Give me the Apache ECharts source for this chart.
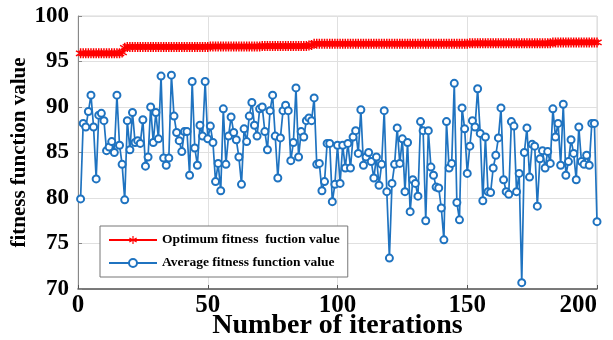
<!DOCTYPE html>
<html>
<head>
<meta charset="utf-8">
<script src="https://cdn.jsdelivr.net/npm/echarts@6/dist/echarts.min.js"></script>
<style>
  html, body { margin: 0; padding: 0; background: #fff; }
  #chart { width: 613px; height: 340px; }
</style>
</head>
<body>
<div id="chart"></div>
<script>
// Best fitness per iteration (iterations 1..200)
const optimumFitness = [
  95.9, 95.9, 95.9, 95.9, 95.9, 95.9, 95.9, 95.9, 95.9, 95.9,
  95.9, 95.9, 95.9, 95.9, 95.9, 95.9, 96.0, 96.5, 96.6, 96.6,
  96.6, 96.6, 96.6, 96.6, 96.6, 96.6, 96.6, 96.6, 96.6, 96.6,
  96.6, 96.6, 96.6, 96.6, 96.6, 96.6, 96.6, 96.6, 96.6, 96.6,
  96.6, 96.6, 96.6, 96.6, 96.6, 96.6, 96.6, 96.6, 96.6, 96.6,
  96.65, 96.65, 96.65, 96.65, 96.65, 96.65, 96.65, 96.65, 96.65, 96.65,
  96.65, 96.65, 96.65, 96.65, 96.65, 96.65, 96.65, 96.65, 96.65, 96.65,
  96.7, 96.7, 96.7, 96.7, 96.7, 96.7, 96.7, 96.7, 96.7, 96.7,
  96.7, 96.7, 96.7, 96.7, 96.7, 96.7, 96.7, 96.7, 96.75, 96.8,
  96.95, 96.95, 96.95, 96.95, 96.95, 96.95, 96.95, 96.95, 96.95, 96.95,
  96.95, 96.95, 96.95, 96.95, 96.95, 96.95, 96.95, 96.95, 96.95, 96.95,
  96.95, 96.95, 96.95, 96.95, 96.95, 96.95, 96.95, 96.95, 96.95, 96.95,
  96.95, 96.95, 96.95, 96.95, 96.95, 96.95, 96.95, 96.95, 96.95, 96.95,
  96.95, 96.95, 96.95, 96.95, 96.95, 96.95, 96.95, 96.95, 96.95, 96.95,
  96.95, 96.95, 96.95, 96.95, 96.95, 96.95, 96.95, 96.95, 96.95, 96.95,
  97.0, 97.0, 97.0, 97.0, 97.0, 97.0, 97.0, 97.0, 97.0, 97.0,
  97.0, 97.0, 97.0, 97.0, 97.0, 97.0, 97.0, 97.0, 97.0, 97.0,
  97.0, 97.0, 97.0, 97.0, 97.0, 97.0, 97.0, 97.0, 97.0, 97.0,
  97.0, 97.0, 97.1, 97.1, 97.1, 97.1, 97.1, 97.1, 97.1, 97.1,
  97.1, 97.1, 97.1, 97.1, 97.1, 97.1, 97.1, 97.1, 97.1, 97.1
];

// Population average fitness per iteration (iterations 1..200)
const averageFitness = [
  79.9, 88.2, 87.8, 89.5, 91.3, 87.8, 82.1, 89.1, 89.3, 88.5,
  85.2, 85.6, 86.2, 85.0, 91.3, 85.8, 83.7, 79.8, 88.5, 85.3,
  89.4, 86.1, 86.3, 86.0, 88.6, 83.5, 84.5, 90.0, 86.1, 89.4,
  86.5, 93.4, 84.4, 83.6, 84.4, 93.5, 89.0, 87.2, 86.3, 85.1,
  87.3, 87.3, 82.5, 92.8, 85.5, 83.6, 88.0, 86.8, 92.8, 86.5,
  87.9, 86.1, 81.8, 83.8, 80.8, 89.8, 83.7, 86.8, 88.9, 87.2,
  86.4, 84.5, 81.5, 87.6, 86.2, 89.0, 90.5, 88.0, 86.8, 89.8,
  90.0, 87.3, 85.3, 89.6, 91.3, 86.8, 82.2, 86.6, 89.6, 90.2,
  89.6, 84.1, 86.1, 92.1, 84.5, 87.3, 86.7, 88.5, 88.8, 88.5,
  91.0, 83.7, 83.8, 80.8, 81.8, 86.0, 86.0, 79.6, 81.5, 85.8,
  81.6, 85.8, 83.3, 86.0, 83.3, 86.7, 87.4, 84.9, 89.7, 83.6,
  84.5, 85.0, 84.0, 82.2, 84.5, 81.4, 83.7, 89.6, 80.7, 73.4,
  81.6, 83.7, 87.7, 83.8, 86.5, 80.7, 86.1, 78.5, 82.0, 81.6,
  80.2, 88.4, 87.4, 77.5, 87.4, 83.4, 82.5, 81.2, 81.1, 78.9,
  75.4, 88.4, 83.3, 83.8, 92.6, 79.5, 77.6, 89.9, 87.6, 82.7,
  85.7, 88.5, 87.8, 92.0, 87.1, 79.7, 86.7, 80.7, 80.6, 83.3,
  84.7, 86.6, 89.9, 82.0, 80.7, 80.4, 88.4, 87.9, 80.7, 82.7,
  70.7, 85.0, 87.7, 82.3, 85.9, 85.7, 79.1, 84.3, 85.2, 83.3,
  85.1, 83.8, 89.8, 86.7, 88.2, 83.6, 90.3, 82.5, 84.0, 86.4,
  84.9, 82.0, 87.8, 84.0, 83.7, 84.7, 83.6, 88.2, 88.2, 77.4
];

const seriesNames = ['Optimum fitness  fuction value', 'Average fitness function value'];

const iterations = averageFitness.map((_, i) => i + 1);
const toPairs = (vals) => vals.map((v, i) => [iterations[i], v]);

// Six-spoke asterisk marker
const asterisk = 'path://M4.3,0L5.7,0L5.7,3.8L9.0,1.9L9.7,3.1L6.4,5L9.7,6.9L9.0,8.1L5.7,6.2L5.7,10L4.3,10L4.3,6.2L1.0,8.1L0.3,6.9L3.6,5L0.3,3.1L1.0,1.9L4.3,3.8Z';

const serif = 'Liberation Serif';
const chart = echarts.init(document.getElementById('chart'));

chart.setOption({
  animation: false,
  backgroundColor: '#fff',
  grid: {
    left: 78, right: 16, top: 16, bottom: 51,
    outerBoundsMode: 'none',
    containLabel: false,
    show: true, borderColor: '#d8d8d8', borderWidth: 1
  },
  legend: {
    orient: 'vertical',
    left: 100, top: 226,
    backgroundColor: '#fff',
    borderColor: '#777', borderWidth: 1,
    padding: [7, 8, 7, 8],
    itemGap: 9,
    itemWidth: 48, itemHeight: 10,
    textStyle: { fontFamily: serif, fontWeight: 'bold', fontSize: 13.5, color: '#000' },
    data: seriesNames
  },
  xAxis: {
    type: 'value', min: 0, max: 200, interval: 50,
    name: 'Number of iterations', nameLocation: 'middle', nameGap: 23,
    nameMoveOverlap: false,
    nameTextStyle: { fontFamily: serif, fontWeight: 'bold', fontSize: 28, color: '#000', verticalAlign: 'top' },
    axisLine: { lineStyle: { color: '#555', width: 1.5 } },
    axisTick: { inside: true, length: 4, lineStyle: { color: '#555' } },
    axisLabel: {
      fontFamily: serif, fontWeight: 'bold', fontSize: 25, color: '#000', margin: 4,
      alignMaxLabel: 'right'
    },
    splitLine: { lineStyle: { color: '#e0e0e0' } }
  },
  yAxis: {
    type: 'value', min: 70, max: 100, interval: 5,
    name: 'fitness function value', nameLocation: 'middle', nameGap: 48,
    nameMoveOverlap: false,
    nameTextStyle: { fontFamily: serif, fontWeight: 'bold', fontSize: 21, color: '#000' },
    axisLine: { show: true, lineStyle: { color: '#888', width: 1 } },
    axisTick: { show: true, inside: true, length: 4, lineStyle: { color: '#888' } },
    axisLabel: { fontFamily: serif, fontWeight: 'bold', fontSize: 23, color: '#000', margin: 9 },
    splitLine: { lineStyle: { color: '#e0e0e0' } }
  },
  series: [
    {
      name: seriesNames[0],
      type: 'line',
      data: toPairs(optimumFitness),
      symbol: asterisk,
      symbolSize: 10,
      showAllSymbol: true,
      color: '#ff0000',
      lineStyle: { color: '#ff0000', width: 2.5 },
      itemStyle: { color: '#ff0000' },
      z: 3
    },
    {
      name: seriesNames[1],
      type: 'line',
      data: toPairs(averageFitness),
      symbol: 'emptyCircle',
      symbolSize: 7,
      showAllSymbol: true,
      color: '#1f73c0',
      lineStyle: { color: '#1f73c0', width: 1.7 },
      itemStyle: { color: '#1f73c0', borderColor: '#1f73c0', borderWidth: 1.7 },
      z: 2
    }
  ]
});
</script>
</body>
</html>
